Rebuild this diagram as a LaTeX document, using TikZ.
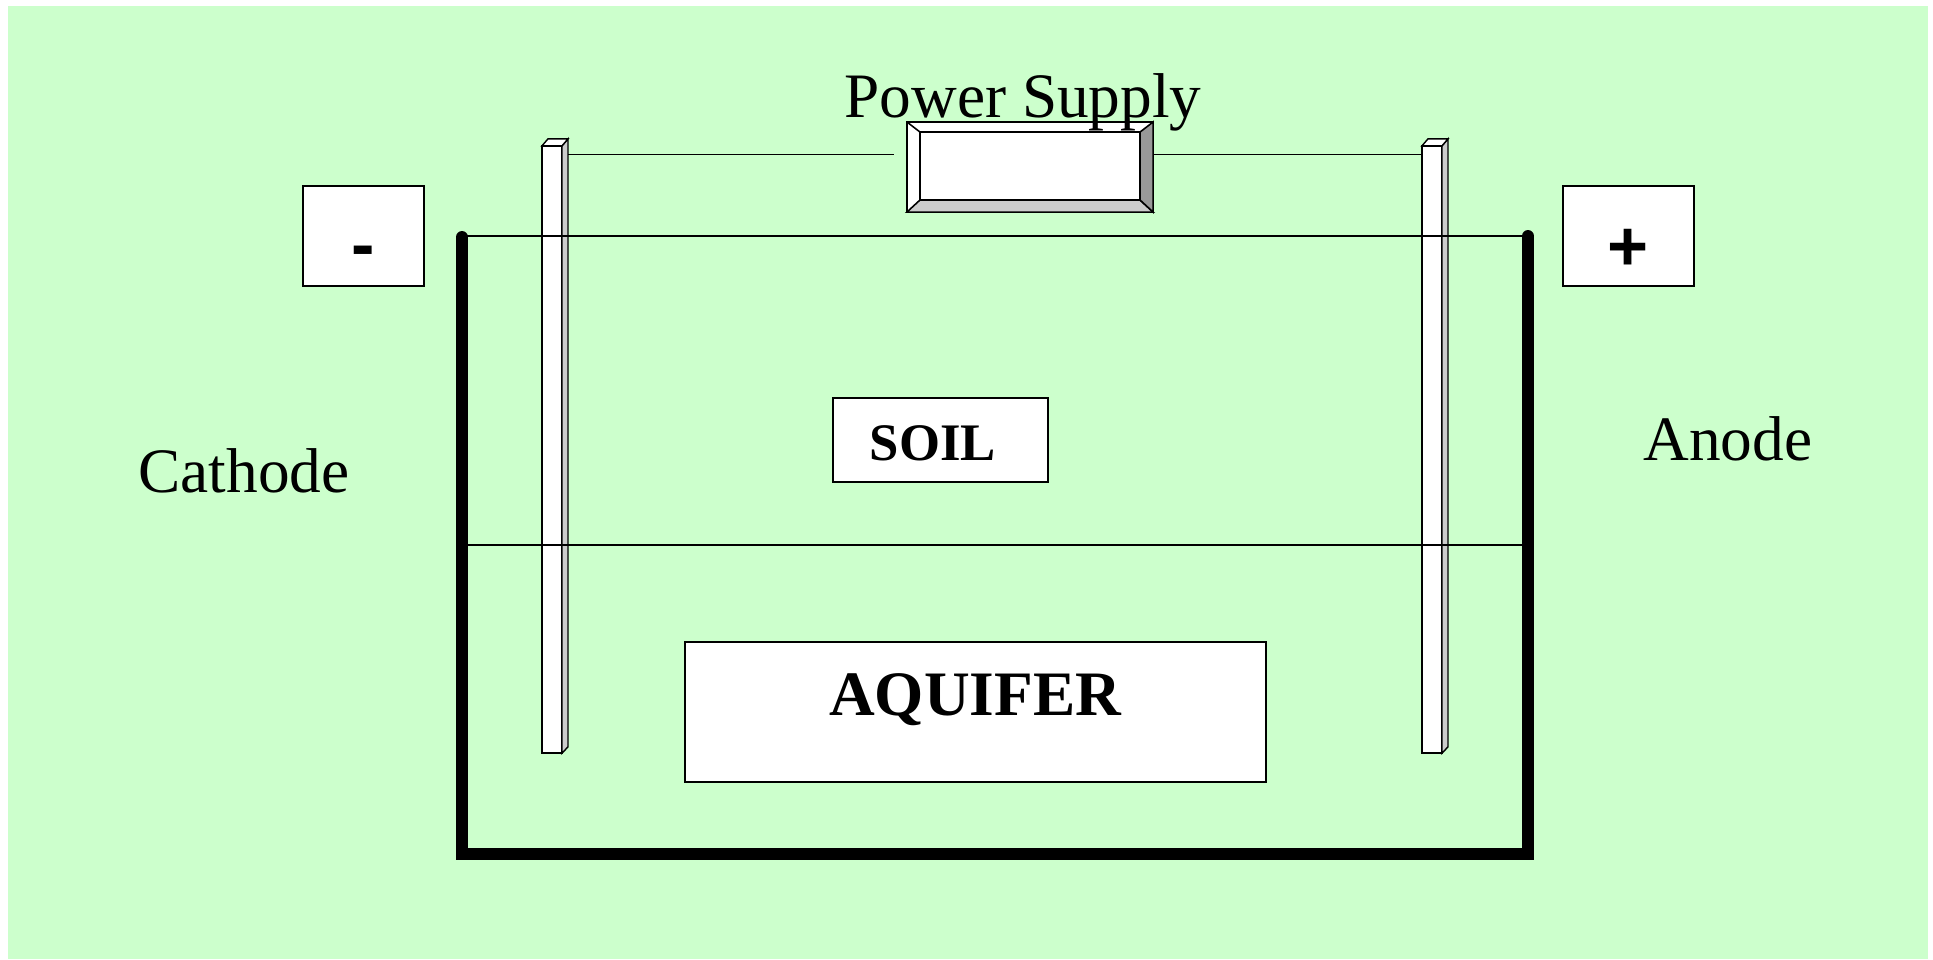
\documentclass[tikz,border=0pt]{standalone}
\usepackage{fontspec}
\setmainfont{Liberation Serif}
\newfontfamily\signfont{Liberation Sans}
\usepackage{xcolor}
\usetikzlibrary{positioning, calc}

\definecolor{soilgreen}{HTML}{CCFFCC}

\tikzset{
  wire/.style={line width=0.35pt},
  layerline/.style={line width=0.35pt},
  tankwall/.style={line width=3.4pt, line cap=round, line join=miter},
  labelbox/.style={draw, fill=white, line width=0.4pt, inner sep=0, outer sep=0},
  electrode/.style={draw, fill=white, line width=0.4pt, inner sep=0, outer sep=0,
    minimum width=0.2cm, minimum height=6.07cm},
  bigtext/.style={font=\fontsize{18}{20}\selectfont},
  signtext/.style={font=\signfont\bfseries\fontsize{20}{22}\selectfont, inner sep=0},
}

\begin{document}
\begin{tikzpicture}[x=0.01cm, y=-0.01cm]
  % page, 1 unit = 1px of the 1933x959 sheet
  \useasboundingbox (0,0) rectangle (1933,959);
  \fill[soilgreen] (8,6) rectangle (1928,959);

  % electrodes: front face + shaded side + top cap
  \foreach \side/\xpos in {L/552, R/1432} {
    \node[electrode] (elec\side) at (\xpos,449.5) {};
    \filldraw[fill=black!20, line width=0.4pt] (elec\side.north east) -- ++(6,-7)
      -- ++(0,608) -- (elec\side.south east) -- cycle;
    \filldraw[fill=white, line width=0.4pt] (elec\side.north west) -- ++(6,-7)
      -- ++(20,0) -- (elec\side.north east) -- cycle;
  }

  % soil surface and water table
  \draw[layerline] (462,236) -- (1528,236);
  \draw[layerline] (462,545) -- (1528,545);

  % tank walls
  \coordinate (tankTL) at (462,237);
  \coordinate (tankBL) at (462,854);
  \coordinate (tankBR) at (1528,854);
  \coordinate (tankTR) at (1528,236);
  \draw[tankwall] (tankTL) -- (tankBL) -- (tankBR) -- (tankTR);

  % power supply, bevelled box
  \node[labelbox, line width=0.45pt, minimum width=2.46cm, minimum height=0.9cm] (ps) at (1030,167) {};
  \node[inner sep=0, outer sep=0, minimum width=2.2cm, minimum height=0.68cm] (psface) at (1030,166) {};
  \filldraw[fill=black!20, line width=0.45pt] (ps.south west) -- (ps.south east)
    -- (psface.south east) -- (psface.south west) -- cycle;
  \filldraw[fill=black!40, line width=0.45pt] (ps.south east) -- (ps.north east)
    -- (psface.north east) -- (psface.south east) -- cycle;
  \draw[line width=0.45pt] (ps.north west) -- (psface.north west);
  \draw[line width=0.45pt] (psface.south west) rectangle (psface.north east);

  % wires
  \coordinate (wireL) at ($(elecL.north east)+(6,9)$);
  \draw[wire, shorten >=0.13cm] (wireL) -- (wireL -| ps.west);
  \draw[wire] (ps.east |- wireL) -- (wireL -| elecR.west);

  % labels
  \node[bigtext, anchor=base] (pslabel) at (1023,117) {Power Supply};
  \node[bigtext, anchor=base] (cathode) at (244,492) {Cathode};
  \node[bigtext, anchor=base] (anode) at (1728,460) {Anode};

  % polarity boxes
  \node[labelbox, minimum width=1.21cm, minimum height=1cm] (minusbox) at (363.5,236) {};
  \node[labelbox, minimum width=1.31cm, minimum height=1cm] (plusbox) at (1628.5,236) {};
  \node[signtext] (minus) at ([yshift=-0.21cm]minusbox.center) {-};
  \node[signtext] (plus) at ([yshift=-0.14cm]plusbox.center) {+};

  % layers
  \node[labelbox, minimum width=2.15cm, minimum height=0.84cm] (soilbox) at (940.5,440) {};
  \node[font=\bfseries\fontsize{15}{17}\selectfont, anchor=base] (soil) at (933,460) {SOIL};
  \node[labelbox, minimum width=5.81cm, minimum height=1.4cm] (aquiferbox) at (975.5,712) {};
  \node[font=\bfseries\fontsize{18}{20}\selectfont, anchor=base] (aquifer) at (975,715) {AQUIFER};
\end{tikzpicture}
\end{document}
